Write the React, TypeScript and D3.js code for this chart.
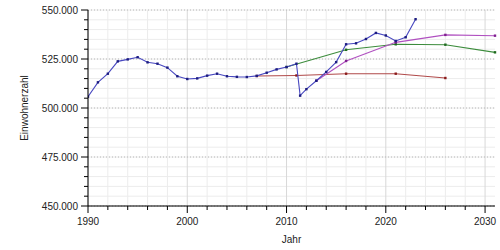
import React from "react";
import * as d3 from "d3";

const blueYears = [1990,1991,1992,1993,1994,1995,1996,1997,1998,1999,2000,2001,2002,2003,2004,2005,2006,2007,2008,2009,2010,2011,2011.37,2012,2013,2014,2015,2016,2017,2018,2019,2020,2021,2022,2023];
const blueValues = [505800,513100,517500,523800,524800,525900,523300,522600,520600,516200,514800,515100,516500,517500,516200,515900,515800,516400,518000,519700,520900,522600,506300,509600,513900,518400,523400,532500,533000,535200,538300,537000,534200,536100,545300];

const redYears = [2007,2011,2016,2021,2026];
const redValues = [516300,516600,517500,517500,515300];

const greenYears = [2010,2016,2021,2026,2031];
const greenValues = [520900,529700,532500,532300,528400];

const magentaYears = [2013,2016,2021,2026,2031];
const magentaValues = [513900,524000,533500,537300,536900];

const yTicks = [450000,475000,500000,525000,550000];
const xTicks = [1990,2000,2010,2020,2030];

const W = 500, H = 250;
const left = 88, right = 495, top = 10, bottom = 206;

const x = d3.scaleLinear().domain([1990, 2031]).range([left, right]);
const y = d3.scaleLinear().domain([450000, 550000]).range([bottom, top]);

const fmt = (v: number) => d3.format(",")(v).replace(/,/g, ".");

type S = { years: number[]; values: number[]; line: string; mark: string };
const series: S[] = [
  { years: redYears, values: redValues, line: "#b04a4a", mark: "#8a1a1a" },
  { years: greenYears, values: greenValues, line: "#3c8c3c", mark: "#1e6a1e" },
  { years: magentaYears, values: magentaValues, line: "#b050c0", mark: "#802090" },
  { years: blueYears, values: blueValues, line: "#4848c0", mark: "#1c1c80" },
];

export default function App() {
  const minorY = d3.range(450000, 550001, 5000);
  const minorX = d3.range(1990, 2031.01, 2);
  const line = d3.line<[number, number]>().x(d => x(d[0])).y(d => y(d[1]));
  const font = "'Liberation Sans', Arial, sans-serif";
  return (
    <svg width={W} height={H} style={{ position: "absolute", left: 0, top: 0, background: "#fff" }} fontFamily={font}>
      <rect x={0} y={0} width={W} height={H} fill="#fff" />
      <defs>
        <clipPath id="plot"><rect x={left} y={top - 2} width={right - left + 2} height={bottom - top + 4} /></clipPath>
      </defs>
      {/* minor grid */}
      {minorY.map(v => (
        <line key={"gy" + v} x1={left} x2={right} y1={y(v)} y2={y(v)} stroke="#ececec" strokeWidth={1} />
      ))}
      {minorX.map(v => (
        <line key={"gx" + v} x1={x(v)} x2={x(v)} y1={top} y2={bottom} stroke={v % 10 === 0 ? "#d8d8d8" : "#ececec"} strokeWidth={1} />
      ))}
      {yTicks.map(v => (
        <line key={"my" + v} x1={left} x2={right} y1={y(v)} y2={y(v)} stroke="#b8b8b8" strokeWidth={1} strokeDasharray="1,2" />
      ))}
      {/* series */}
      <g clipPath="url(#plot)">
        {series.map((s, i) => {
          const pts = s.years.map((yr, j) => [yr, s.values[j]] as [number, number]);
          return (
            <g key={i}>
              <path d={line(pts) || ""} fill="none" stroke={s.line} strokeWidth={1.1} />
              {pts.map((p, j) => (
                <rect key={j} x={x(p[0]) - 1.2} y={y(p[1]) - 1.2} width={2.4} height={2.4} fill={s.mark} />
              ))}
            </g>
          );
        })}
      </g>
      {/* axes */}
      <line x1={left} x2={left} y1={top} y2={bottom} stroke="#000" strokeWidth={1} />
      <line x1={left} x2={right} y1={bottom} y2={bottom} stroke="#000" strokeWidth={1} />
      {minorY.map(v => (
        <line key={"ty" + v} x1={v % 25000 === 0 ? left - 7 : left - 4} x2={left} y1={y(v)} y2={y(v)} stroke="#000" strokeWidth={1} />
      ))}
      {minorX.map(v => (
        <line key={"tx" + v} x1={x(v)} x2={x(v)} y1={bottom} y2={v % 10 === 0 ? bottom + 7 : bottom + 4} stroke="#000" strokeWidth={1} />
      ))}
      {yTicks.map(v => (
        <text key={"ly" + v} x={left - 10} y={y(v)} dy="0.35em" textAnchor="end" fontSize={10} fill="#222">{fmt(v)}</text>
      ))}
      {xTicks.map(v => (
        <text key={"lx" + v} x={x(v)} y={bottom + 19} textAnchor="middle" fontSize={10} fill="#222">{v}</text>
      ))}
      <text x={(left + right) / 2} y={243} textAnchor="middle" fontSize={10} fill="#222">Jahr</text>
      <text transform={`translate(28,${(top + bottom) / 2}) rotate(-90)`} textAnchor="middle" fontSize={10} fill="#222">Einwohnerzahl</text>
    </svg>
  );
}
